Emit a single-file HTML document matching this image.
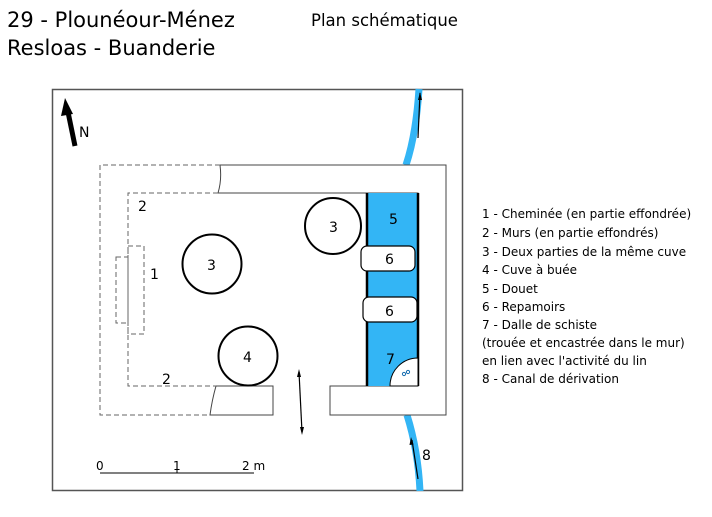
<!DOCTYPE html>
<html><head><style>
body{margin:0;background:#fff;}
svg text{font-family:"DejaVu Sans","Liberation Sans",sans-serif;fill:#000;}
</style></head><body>
<svg width="712" height="512" viewBox="0 0 712 512" xmlns="http://www.w3.org/2000/svg">
<rect x="0" y="0" width="712" height="512" fill="#fff"/>
<text x="7" y="27" font-size="21">29 - Plounéour-Ménez</text>
<text x="7" y="55" font-size="21">Resloas - Buanderie</text>
<text x="311" y="26" font-size="16.5">Plan schématique</text>
<rect x="52.5" y="89.5" width="410" height="401" fill="none" stroke="#555" stroke-width="1.5"/>
<path d="M419,89 Q416,135 406,165" stroke="#33b5f5" stroke-width="7" fill="none"/>
<path d="M407,415 Q418,450 420,491" stroke="#33b5f5" stroke-width="7" fill="none"/>
<path d="M418,138 L420,93" stroke="#000" stroke-width="1.2"/>
<path d="M420,92 l-2,8 l4,0 z" fill="#000"/>
<path d="M418,479 L412,440" stroke="#000" stroke-width="1.2"/>
<path d="M411,437 l-1.5,8 l4,-0.5 z" fill="#000"/>
<text x="422" y="460" font-size="14">8</text>
<path d="M220,165 L446,165 L446,415 L330,415 L330,386 L418,386 L418,193 L218,193 Q222,180 220,165 Z" fill="#fff" stroke="#444" stroke-width="1"/>
<path d="M210,415 L273,415 L273,386 L216,386 Q212,400 210,415 Z" fill="#fff" stroke="#444" stroke-width="1"/>
<path d="M220,165 L100,165 L100,415 L210,415 M218,193 L128,193 L128,386 L216,386" fill="none" stroke="#666" stroke-width="1" stroke-dasharray="5,3"/>
<rect x="116" y="257" width="12" height="66" fill="none" stroke="#666" stroke-dasharray="5,3"/>
<rect x="128" y="246" width="16" height="88" fill="none" stroke="#666" stroke-dasharray="5,3"/>
<rect x="367" y="193" width="51" height="193" fill="#33b5f5"/>
<line x1="367" y1="193" x2="367" y2="386" stroke="#000" stroke-width="2.5"/>
<line x1="418" y1="193" x2="418" y2="386" stroke="#000" stroke-width="2.5"/>
<path d="M390,386 A28,28 0 0 1 418,358 L418,386 Z" fill="#fff" stroke="#000" stroke-width="1"/>
<circle cx="404" cy="374" r="1.6" fill="none" stroke="#1a6fb0"/>
<circle cx="408" cy="372" r="1.6" fill="none" stroke="#1a6fb0"/>
<text x="386" y="364" font-size="14">7</text>
<rect x="361" y="246" width="54" height="25" rx="6" fill="#fff" stroke="#000" stroke-width="1.2"/>
<rect x="363" y="297" width="54" height="25" rx="6" fill="#fff" stroke="#000" stroke-width="1.2"/>
<text x="385" y="264" font-size="14">6</text>
<text x="385" y="316" font-size="14">6</text>
<text x="389" y="224" font-size="14">5</text>
<circle cx="212" cy="264" r="29.5" fill="#fff" stroke="#000" stroke-width="2"/>
<circle cx="333" cy="226" r="28" fill="#fff" stroke="#000" stroke-width="2"/>
<circle cx="248" cy="356" r="29.5" fill="#fff" stroke="#000" stroke-width="2"/>
<text x="207" y="270" font-size="14">3</text>
<text x="329" y="232" font-size="14">3</text>
<text x="243" y="362" font-size="14">4</text>
<text x="138" y="211" font-size="14">2</text>
<text x="150" y="279" font-size="14">1</text>
<text x="162" y="384" font-size="14">2</text>
<path d="M75,146 L68,112" stroke="#000" stroke-width="5"/>
<path d="M65,98 L61,116 L73,114 Z" fill="#000"/>
<text x="79" y="137" font-size="14">N</text>
<path d="M299,372 L302,432" stroke="#000" stroke-width="1.2"/>
<path d="M299,369 l-2,8 l4,0 z" fill="#000"/>
<path d="M302,435 l-2,-8 l4,0 z" fill="#000"/>
<line x1="100" y1="473" x2="254" y2="473" stroke="#000"/>
<line x1="177" y1="468" x2="177" y2="473" stroke="#000"/>
<text x="96" y="470" font-size="12">0</text>
<text x="173" y="470" font-size="12">1</text>
<text x="242" y="470" font-size="12">2 m</text>
<g font-size="12">
<text x="482" y="218">1 - Cheminée (en partie effondrée)</text>
<text x="482" y="237">2 - Murs (en partie effondrés)</text>
<text x="482" y="256">3 - Deux parties de la même cuve</text>
<text x="482" y="274">4 - Cuve à buée</text>
<text x="482" y="293">5 - Douet</text>
<text x="482" y="311">6 - Repamoirs</text>
<text x="482" y="329">7 - Dalle de schiste</text>
<text x="482" y="347">(trouée et encastrée dans le mur)</text>
<text x="482" y="365">en lien avec l'activité du lin</text>
<text x="482" y="383">8 - Canal de dérivation</text>
</g>
</svg>
</body></html>
